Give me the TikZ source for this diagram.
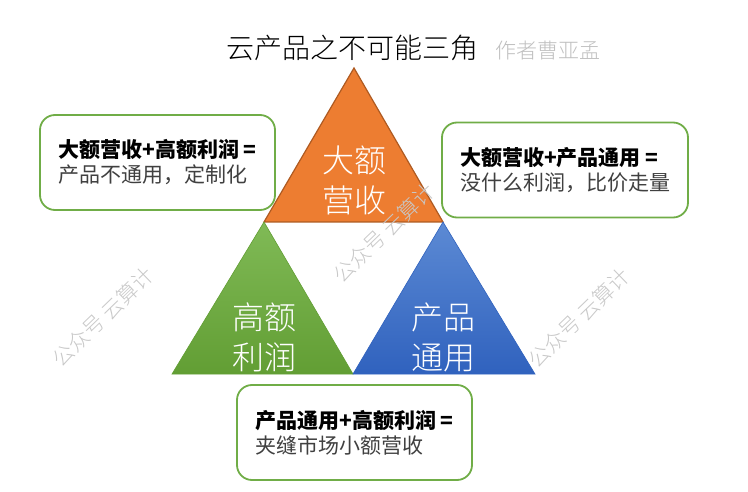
\documentclass[tikz,border=0pt]{standalone}
\usepackage{fontspec}
\setmainfont{Noto Sans CJK SC}
\newfontfamily\lightcjk{Noto Sans CJK SC Light}
\usetikzlibrary{positioning}

\definecolor{triorange}{RGB}{237,125,49}
\definecolor{triorangeline}{RGB}{174,90,33}
\definecolor{greentop}{RGB}{128,186,86}
\definecolor{greenbot}{RGB}{98,158,52}
\definecolor{bluetop}{RGB}{92,138,212}
\definecolor{bluebot}{RGB}{48,98,190}
\definecolor{boxgreen}{RGB}{112,173,71}
\definecolor{textgray}{RGB}{64,64,64}
\definecolor{authorgray}{RGB}{191,191,191}
\definecolor{markgray}{RGB}{200,200,200}

\tikzset{
  trilabel/.style={text=white, align=center, font=\lightcjk\fontsize{32}{40}\selectfont},
  infobox/.style={draw=boxgreen, line width=1.8pt, rounded corners=15pt, fill=white,
    align=left, minimum width=235pt, minimum height=95pt, font=\fontsize{21}{25}\selectfont},
  watermark/.style={text=markgray, rotate=44, font=\lightcjk\fontsize{21}{25}\selectfont}
}

\begin{document}
\begin{tikzpicture}[x=1pt,y=-1pt]
    \useasboundingbox (0,0) rectangle (748,492);

    \coordinate (top) at (354,68);
    \coordinate (ml) at (264,222);
    \coordinate (mr) at (443,222);
    \coordinate (bl) at (172,374);
    \coordinate (bm) at (353,374);
    \coordinate (br) at (535,374);

    % the three triangles
    \draw[triorangeline,line width=1.2pt,fill=triorange] (top) -- (mr) -- (ml) -- cycle;
    \shade[top color=greentop,bottom color=greenbot] (ml) -- (bm) -- (bl) -- cycle;
    \draw[greenbot,line width=0.6pt] (ml) -- (bm) -- (bl) -- cycle;
    \shade[top color=bluetop,bottom color=bluebot] (mr) -- (br) -- (bm) -- cycle;
    \draw[bluebot,line width=0.6pt] (mr) -- (br) -- (bm) -- cycle;

    \node[trilabel] (revenue) at (354,180) {大额\\营收};
    \node[trilabel] (profit) at (264,337) {高额\\利润};
    \node[trilabel] (generic) at (443,337) {产品\\通用};

    % title
    \node[font=\lightcjk\fontsize{28}{32}\selectfont] (title) at (352,48) {云产品之不可能三角};
    \node[text=authorgray,font=\lightcjk\fontsize{21}{25}\selectfont,anchor=base west]
      (author) at ([xshift=10pt]title.base east) {作者曹亚孟};

    % the three boxes
    \node[infobox] (boxl) at (157.5,162.5)
      {\textbf{大额营收+高额利润 =}\\{\color{textgray}产品不通用，定制化}};
    \node[infobox,minimum width=246pt] (boxr) at (565,170)
      {\textbf{大额营收+产品通用 =}\\{\color{textgray}没什么利润，比价走量}};
    \node[infobox] (boxb) at (354.5,432.5)
      {\textbf{产品通用+高额利润 =}\\{\color{textgray}夹缝市场小额营收}};

    % watermarks
    \node[watermark] (markl) at (103,317) {公众号 云算计};
    \node[watermark] (markm) at (384,233) {公众号 云算计};
    \node[watermark] (markr) at (579,318) {公众号 云算计};
\end{tikzpicture}
\end{document}
